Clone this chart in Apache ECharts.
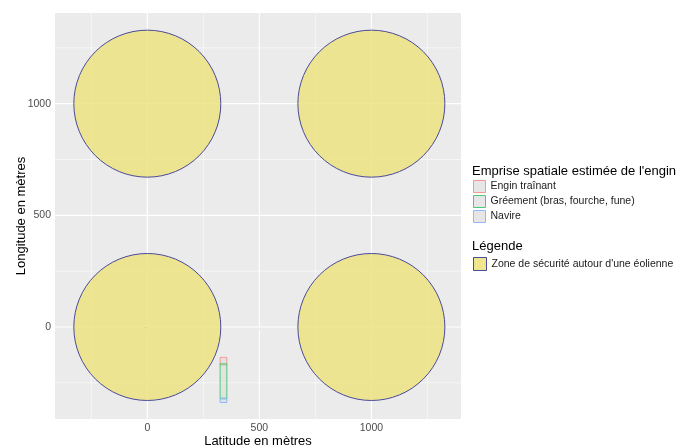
<!DOCTYPE html>
<html>
<head>
<meta charset="utf-8">
<script src="https://cdn.jsdelivr.net/npm/echarts@6/dist/echarts.min.js"></script>
<style>
    html, body { margin: 0; padding: 0; background: #fff; }
    #zoneBox { width: 693px; height: 448px; }
</style>
</head>
<body>
<div id="zoneBox"></div>
<script>
//zones de sécurité autour des éoliennes
var zoneNames = ["Zone de sécurité autour d'une éolienne"];
var zoneX = [0, 1000, 0, 1000];
var zoneY = [0, 0, 1000, 1000];
var zoneRadius = 328;

//emprise de l'engin (rectangles)
var enginNames = ['Engin traînant', 'Gréement (bras, fourche, fune)', 'Navire'];
var enginXMin = [325, 325, 325];
var enginXMax = [355, 355, 355];
var enginYMin = [-170, -322, -338];
var enginYMax = [-136, -165, -318];
var enginColors = ['#F49A93', '#4CCB73', '#8FB8FF'];

//graduations
var tickValues = [0, 500, 1000];
var majorBreaks = [0, 500, 1000];
var minorBreaks = [-250, 250, 750, 1250];
var xLimits = [-412, 1400];
var yLimits = [-412, 1406];

var fontName = "'Liberation Sans', Arial, sans-serif";

function renderGridLine(params, api) {
    var v = api.value(0);
    var isMajor = api.value(1) === 1;
    var p1, p2;
    if (api.value(2) === 0) {
        p1 = api.coord([v, yLimits[0]]);
        p2 = api.coord([v, yLimits[1]]);
    } else {
        p1 = api.coord([xLimits[0], v]);
        p2 = api.coord([xLimits[1], v]);
    }
    return {
        type: 'line',
        shape: { x1: p1[0], y1: p1[1], x2: p2[0], y2: p2[1] },
        style: { stroke: '#ffffff', lineWidth: isMajor ? 1.1 : 0.55 }
    };
}

function renderZone(params, api) {
    var c = api.coord([api.value(0), api.value(1)]);
    var r = api.size([zoneRadius, 0])[0];
    return {
        type: 'circle',
        shape: { cx: c[0], cy: c[1], r: r },
        style: { fill: 'rgba(237,227,129,0.85)', stroke: '#4a4a9a', lineWidth: 1 }
    };
}

function makeRectRenderer(color) {
    return function (params, api) {
        var p1 = api.coord([api.value(0), api.value(3)]);
        var p2 = api.coord([api.value(1), api.value(2)]);
        return {
            type: 'rect',
            shape: { x: p1[0], y: p1[1], width: p2[0] - p1[0], height: p2[1] - p1[1] },
            style: { fill: 'rgba(200,200,200,0.25)', stroke: color, lineWidth: 1 }
        };
    };
}

function tickLabel(v) {
    return String(v);
}

function loadZones() {
    var gridData = [];
    $each(majorBreaks, function (v) { gridData.push([v, 1, 0]); gridData.push([v, 1, 1]); });
    $each(minorBreaks, function (v) { gridData.push([v, 0, 0]); gridData.push([v, 0, 1]); });

    var zoneData = [];
    $each(zoneX, function (x, i) { zoneData.push([x, zoneY[i]]); });

    var seriesList = [
        {
            type: 'custom',
            renderItem: renderGridLine,
            data: gridData,
            silent: true,
            z: 1
        },
        {
            name: zoneNames[0],
            type: 'custom',
            renderItem: renderZone,
            encode: { x: 0, y: 1 },
            data: zoneData,
            z: 2
        }
    ];
    $each(enginNames, function (name, i) {
        seriesList.push({
            name: name,
            type: 'custom',
            renderItem: makeRectRenderer(enginColors[i]),
            encode: { x: [0, 1], y: [2, 3] },
            data: [[enginXMin[i], enginXMax[i], enginYMin[i], enginYMax[i]]],
            z: 3
        });
    });

    var enginLegend = [];
    $each(enginNames, function (name, i) {
        enginLegend.push({
            name: name,
            itemStyle: { color: '#e6e6e6', borderColor: enginColors[i], borderWidth: 1 }
        });
    });

    var option_zone = {
        animation: false,
        title: [
            {
                text: "Emprise spatiale estimée de l'engin",
                left: 472, top: 165, padding: 0,
                textStyle: { fontFamily: fontName, fontSize: 13, fontWeight: 'normal', color: '#000' }
            },
            {
                text: 'Légende',
                left: 472, top: 240, padding: 0,
                textStyle: { fontFamily: fontName, fontSize: 13, fontWeight: 'normal', color: '#000' }
            }
        ],
        legend: [
            {
                orient: 'vertical',
                left: 473, top: 180, padding: 0,
                itemWidth: 12, itemHeight: 12, itemGap: 2,
                icon: 'rect',
                selectedMode: false,
                data: enginLegend,
                textStyle: { fontFamily: fontName, fontSize: 10.5, color: '#1a1a1a' }
            },
            {
                orient: 'vertical',
                left: 473, top: 257, padding: 0,
                itemWidth: 13, itemHeight: 13,
                icon: 'rect',
                selectedMode: false,
                data: [{
                    name: zoneNames[0],
                    itemStyle: { color: 'rgba(237,227,129,0.9)', borderColor: '#4a4a9a', borderWidth: 1 }
                }],
                textStyle: { fontFamily: fontName, fontSize: 10.5, color: '#1a1a1a' }
            }
        ],
        grid: {
            left: 55, top: 13, width: 406, height: 406,
            show: true,
            backgroundColor: '#EBEBEB',
            borderWidth: 0,
            outerBoundsMode: 'none'
        },
        xAxis: {
            type: 'value',
            min: xLimits[0], max: xLimits[1],
            name: 'Latitude en mètres',
            nameLocation: 'middle',
            nameGap: 16,
            nameMoveOverlap: false,
            nameTextStyle: { fontFamily: fontName, fontSize: 13, color: '#000' },
            axisLine: { show: false },
            axisTick: { show: true, length: 3, customValues: tickValues, lineStyle: { color: '#333' } },
            axisLabel: { customValues: tickValues, formatter: tickLabel, margin: 4, fontFamily: fontName, fontSize: 10.5, color: '#4d4d4d' },
            splitLine: { show: false }
        },
        yAxis: {
            type: 'value',
            min: yLimits[0], max: yLimits[1],
            name: 'Longitude en mètres',
            nameLocation: 'middle',
            nameGap: 27,
            nameMoveOverlap: false,
            nameTextStyle: { fontFamily: fontName, fontSize: 13, color: '#000' },
            axisLine: { show: false },
            axisTick: { show: true, length: 3, customValues: tickValues, lineStyle: { color: '#333' } },
            axisLabel: { customValues: tickValues, formatter: tickLabel, margin: 4, fontFamily: fontName, fontSize: 10.5, color: '#4d4d4d' },
            splitLine: { show: false }
        },
        series: seriesList
    };

    var myChart_zone = echarts.init(document.getElementById('zoneBox'));
    myChart_zone.setOption(option_zone);
}

function $each(arr, fn) {
    for (var i = 0; i < arr.length; i++) {
        fn(arr[i], i);
    }
}

loadZones();
</script>
</body>
</html>
